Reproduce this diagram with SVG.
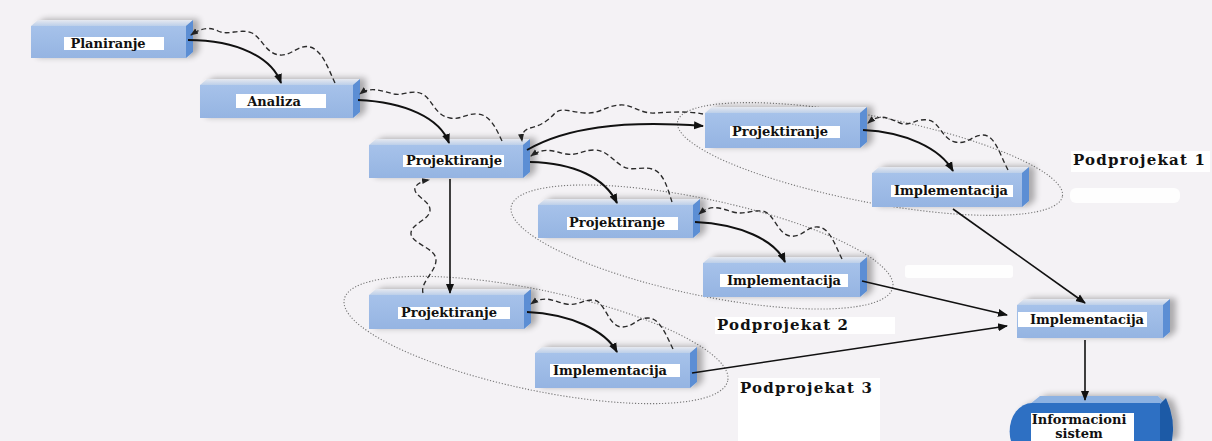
<svg xmlns="http://www.w3.org/2000/svg" width="1212" height="441" viewBox="0 0 1212 441">
  <defs>
    <linearGradient id="topFace" x1="0" y1="0" x2="0" y2="1">
      <stop offset="0" stop-color="#e6e9f0"/>
      <stop offset="1" stop-color="#bccfe9"/>
    </linearGradient>
    <linearGradient id="frontFace" x1="0" y1="0" x2="0" y2="1">
      <stop offset="0" stop-color="#a6c2ea"/>
      <stop offset="1" stop-color="#95b4e2"/>
    </linearGradient>
    <filter id="shadow" x="-10%" y="-40%" width="130%" height="180%">
      <feGaussianBlur in="SourceAlpha" stdDeviation="3"/>
      <feOffset dx="6" dy="-1" result="b"/>
      <feComponentTransfer><feFuncA type="linear" slope="0.3"/></feComponentTransfer>
      <feMerge><feMergeNode/><feMergeNode in="SourceGraphic"/></feMerge>
    </filter>
    <marker id="solidHead" markerWidth="10" markerHeight="10" refX="9" refY="5" orient="auto" markerUnits="userSpaceOnUse">
      <path d="M0,1 L10,5 L0,9 Z" fill="#111"/>
    </marker>
    <marker id="dashHead" markerWidth="8" markerHeight="8" refX="7" refY="4" orient="auto" markerUnits="userSpaceOnUse">
      <path d="M0,1 L8,4 L0,7 Z" fill="#222"/>
    </marker>
    <style>
      .top { fill: url(#topFace); }
      .side { fill: #5b8ed4; }
      .front { fill: url(#frontFace); }
      .lbl { fill: #ffffff; }
      .name { font-family: "DejaVu Serif", "Liberation Serif", serif; font-weight: bold; font-size: 13px; fill: #111; text-anchor: middle; }
      .title { font-family: "DejaVu Serif", "Liberation Serif", serif; font-weight: bold; font-size: 15px; fill: #111; }
      .solid { fill: none; stroke: #111; stroke-width: 2; marker-end: url(#solidHead); }
      .straight { fill: none; stroke: #111; stroke-width: 1.6; marker-end: url(#solidHead); }
      .wave { fill: none; stroke: #2a2a2a; stroke-width: 1.35; stroke-dasharray: 5 3; marker-end: url(#dashHead); }
      .group { fill: none; stroke: #777; stroke-width: 1.1; stroke-dasharray: 1.2 1.8; }
      .patch { fill: #ffffff; }
    </style>
  </defs>

  <rect width="1212" height="441" fill="#f4f2f5"/>

  <!-- blank white patches -->
  <g id="patches">
    <rect class="patch" x="1071" y="151" width="139" height="21"/>
    <rect class="patch" x="1070" y="188" width="110" height="15" rx="6" opacity="0.9"/>
    <rect class="patch" x="905" y="265" width="108" height="13" rx="3" opacity="0.9"/>
    <rect class="patch" x="715" y="317" width="180" height="17"/>
    <rect class="patch" x="738" y="378" width="142" height="63"/>
  </g>

  <!-- sub-project outlines -->
  <g id="subprojects">
    <ellipse class="group" cx="870" cy="159" rx="196" ry="43" transform="rotate(11 870 159)"/>
    <ellipse class="group" cx="702" cy="247" rx="195" ry="48" transform="rotate(12 702 247)"/>
    <ellipse class="group" cx="536" cy="340" rx="196" ry="50" transform="rotate(12 536 340)"/>
  </g>

  <g id="planiranje">
    <g filter="url(#shadow)">
      <polygon class="top" points="31,26 38,20 193,20 186,26"/>
      <polygon class="side" points="186,26 193,20 193,52 186,58"/>
      <rect class="front" x="31" y="26" width="155" height="32"/>
    </g>
    <rect class="lbl" x="64" y="37" width="100" height="13"/>
    <text class="name" x="108" y="48">Planiranje</text>
  </g>

  <g id="analiza">
    <g filter="url(#shadow)">
      <polygon class="top" points="200,85 207,79 360,79 353,85"/>
      <polygon class="side" points="353,85 360,79 360,112 353,118"/>
      <rect class="front" x="200" y="85" width="153" height="33"/>
    </g>
    <rect class="lbl" x="236" y="94" width="90" height="14"/>
    <text class="name" x="274" y="106">Analiza</text>
  </g>

  <g id="projektiranje">
    <g filter="url(#shadow)">
      <polygon class="top" points="369,145 376,139 530,139 523,145"/>
      <polygon class="side" points="523,145 530,139 530,172 523,178"/>
      <rect class="front" x="369" y="145" width="154" height="33"/>
    </g>
    <rect class="lbl" x="403" y="155" width="101" height="12"/>
    <text class="name" x="454" y="165">Projektiranje</text>
  </g>

  <g id="p1-projektiranje">
    <g filter="url(#shadow)">
      <polygon class="top" points="705,113 712,107 867,107 860,113"/>
      <polygon class="side" points="860,113 867,107 867,142 860,148"/>
      <rect class="front" x="705" y="113" width="155" height="35"/>
    </g>
    <rect class="lbl" x="730" y="126" width="110" height="12"/>
    <text class="name" x="780" y="136">Projektiranje</text>
  </g>

  <g id="p1-implementacija">
    <g filter="url(#shadow)">
      <polygon class="top" points="872,173 879,167 1029,167 1022,173"/>
      <polygon class="side" points="1022,173 1029,167 1029,201 1022,207"/>
      <rect class="front" x="872" y="173" width="150" height="34"/>
    </g>
    <rect class="lbl" x="891" y="185" width="122" height="12"/>
    <text class="name" x="951" y="195">Implementacija</text>
  </g>

  <g id="p2-projektiranje">
    <g filter="url(#shadow)">
      <polygon class="top" points="538,205 545,199 700,199 693,205"/>
      <polygon class="side" points="693,205 700,199 700,232 693,238"/>
      <rect class="front" x="538" y="205" width="155" height="33"/>
    </g>
    <rect class="lbl" x="567" y="217" width="111" height="13"/>
    <text class="name" x="617" y="227">Projektiranje</text>
  </g>

  <g id="p2-implementacija">
    <g filter="url(#shadow)">
      <polygon class="top" points="703,263 710,257 867,257 860,263"/>
      <polygon class="side" points="860,263 867,257 867,291 860,297"/>
      <rect class="front" x="703" y="263" width="157" height="34"/>
    </g>
    <rect class="lbl" x="720" y="274" width="128" height="13"/>
    <text class="name" x="784" y="285">Implementacija</text>
  </g>

  <g id="p3-projektiranje">
    <g filter="url(#shadow)">
      <polygon class="top" points="369,295 376,289 531,289 524,295"/>
      <polygon class="side" points="524,295 531,289 531,323 524,329"/>
      <rect class="front" x="369" y="295" width="155" height="34"/>
    </g>
    <rect class="lbl" x="398" y="307" width="112" height="12"/>
    <text class="name" x="449" y="317">Projektiranje</text>
  </g>

  <g id="p3-implementacija">
    <g filter="url(#shadow)">
      <polygon class="top" points="535,353 542,347 697,347 690,353"/>
      <polygon class="side" points="690,353 697,347 697,382 690,388"/>
      <rect class="front" x="535" y="353" width="155" height="35"/>
    </g>
    <rect class="lbl" x="550" y="364" width="130" height="13"/>
    <text class="name" x="610" y="375">Implementacija</text>
  </g>

  <g id="implementacija">
    <g filter="url(#shadow)">
      <polygon class="top" points="1017,305 1024,299 1170,299 1163,305"/>
      <polygon class="side" points="1163,305 1170,299 1170,332 1163,338"/>
      <rect class="front" x="1017" y="305" width="146" height="33"/>
    </g>
    <rect class="lbl" x="1018" y="312" width="129" height="15"/>
    <text class="name" x="1087" y="324">Implementacija</text>
  </g>

  <g id="informacioni-sistem">
    <g filter="url(#shadow)">
      <path d="M1030,404 L1040,396 L1158,396 L1166,404 Z" fill="#8db2e2"/>
      <path d="M1160,404 L1166,398 Q1176,420 1172,441 L1160,441 Z" fill="#1d5aa6"/>
      <path d="M1032,403 L1160,403 L1160,460 L1032,460 A22,28 0 0 1 1032,403 Z" fill="#2e70c3"/>
    </g>
    <rect class="lbl" x="1031" y="413" width="103" height="28"/>
    <text class="name" x="1079" y="424" font-size="12.5">Informacioni</text>
    <text class="name" x="1079" y="438" font-size="12.5">sistem</text>
  </g>

  <!-- sub-project captions -->
  <g id="captions">
    <text class="title" x="1073" y="165" textLength="132" lengthAdjust="spacing">Podprojekat 1</text>
    <text class="title" x="717" y="330" textLength="131" lengthAdjust="spacing">Podprojekat 2</text>
    <text class="title" x="740" y="393" textLength="132" lengthAdjust="spacing">Podprojekat 3</text>
  </g>

  <g id="connectors">
    <!-- forward flow -->
    <path class="solid" d="M188,40 C238,40 272,58 281,83"/>
    <path class="solid" d="M358,100 C405,102 440,118 449,143"/>
    <path class="solid" d="M527,150 C565,128 620,120 703,126"/>
    <path class="solid" d="M530,162 C575,163 605,178 617,203"/>
    <path class="solid" d="M863,130 C905,132 940,148 953,171"/>
    <path class="solid" d="M695,222 C740,224 775,240 785,262"/>
    <path class="solid" d="M527,312 C570,314 605,330 617,352"/>
    <path class="straight" d="M450,179 L450,293"/>
    <path class="straight" d="M953,209 L1085,303"/>
    <path class="straight" d="M862,281 L1007,315"/>
    <path class="straight" d="M692,373 L1007,326"/>
    <path class="straight" d="M1085,340 L1085,400"/>

    <!-- feedback loops -->
    <path class="wave" d="M335,83 C328,68 322,50 310,47 C298,44 292,56 280,55 C266,54 262,38 252,33 C240,28 228,36 218,31 C208,26 200,29 191,35"/>
    <path class="wave" d="M502,141 C496,128 490,115 478,114 C466,113 462,120 450,118 C436,116 432,100 424,95 C414,88 404,96 394,94 C382,91 370,86 360,94"/>
    <path class="wave" d="M703,114 C690,111 670,112 655,113 C640,114 632,104 620,105 C605,106 600,114 585,113 C570,112 562,107 555,113 C548,121 540,126 530,128 C524,130 521,134 522,141"/>
    <path class="wave" d="M672,202 C668,190 664,172 652,169 C640,166 632,172 622,166 C610,158 606,150 594,150 C582,150 578,156 566,154 C555,152 545,146 531,156"/>
    <path class="wave" d="M1008,170 C1000,155 995,135 983,135 C972,135 968,145 955,142 C942,139 940,122 928,120 C916,118 910,127 900,123 C888,118 880,113 868,123"/>
    <path class="wave" d="M842,259 C835,245 830,228 818,227 C806,226 803,238 790,236 C777,234 774,212 762,211 C750,210 745,215 733,212 C722,209 712,203 699,214"/>
    <path class="wave" d="M673,349 C666,335 660,318 648,318 C636,318 634,327 622,327 C608,327 605,300 593,300 C582,300 578,306 566,304 C555,302 545,294 531,304"/>
    <path class="wave" d="M423,293 C420,282 436,272 436,260 C436,248 412,244 411,234 C410,224 430,220 430,210 C430,200 413,196 415,188 C417,183 423,181 429,180"/>
  </g>
</svg>
